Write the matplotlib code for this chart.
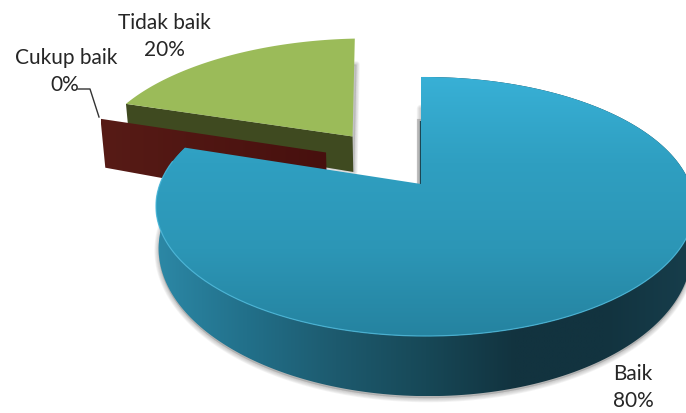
import numpy as np
import matplotlib
matplotlib.use("Agg")
import matplotlib.pyplot as plt
from matplotlib.patches import Polygon
from matplotlib.colors import LinearSegmentedColormap

categories = ["Baik", "Cukup baik", "Tidak baik"]
values = [80, 0, 20]
pct_labels = ["80%", "0%", "20%"]

# projection / style constants
CX, CY, A, B, K, KU, D = 421.0, 185.0, 265.0, 125.6, 0.1738, 0.015, 41.0
EXPLODE = {"Baik": (0.0, 0.0), "Cukup baik": (305.0, 0.46), "Tidak baik": (325.7, 0.4925)}
RADIUS = {"Baik": 1.0, "Cukup baik": 1.03, "Tidak baik": 1.05}
END_TRIM = {"Baik": 0.0, "Cukup baik": 0.0, "Tidak baik": 2.0}

def project(u, v, z=0.0):
    u, v = np.asarray(u, float), np.asarray(v, float)
    w = 1 + K * v - KU * u
    x = CX + A * u / w * (1 - 0.01 * z)
    y = CY - B * v / w + D * z / w ** 2
    return np.column_stack([np.atleast_1d(x), np.atleast_1d(y)])

def slice_geom(name, a0, a1):
    ang, ex = EXPLODE[name]
    ou, ov = ex * np.sin(np.radians(ang)), ex * np.cos(np.radians(ang))
    t = np.radians(np.linspace(a0, a1 - END_TRIM[name], 240))
    r = RADIUS[name]
    return ou, ov, ou + r * np.sin(t), ov + r * np.cos(t)

total = sum(values)
edges = np.concatenate([[0], np.cumsum(values)]) / total * 360
spans = {c: (edges[i], edges[i + 1]) for i, c in enumerate(categories)}

plt.rcParams["font.family"] = ["Lato", "DejaVu Sans"]
fig = plt.figure(figsize=(6.86, 4.14), dpi=100)
ax = fig.add_axes([0, 0, 1, 1])
ax.set_axis_off()

def shadow(pts, dx=0, dy=2, layers=5):
    for i in range(layers, 0, -1):
        ax.add_patch(Polygon(pts + [dx, dy], closed=True, fc="#808080", ec="#808080",
                             lw=i * 1.2, alpha=0.09, zorder=1, joinstyle="round"))

def gradient(pts, colors, vertical=True, zorder=3):
    x0, x1, y0, y1 = pts[:, 0].min(), pts[:, 0].max(), pts[:, 1].min(), pts[:, 1].max()
    g = np.linspace(0, 1, 256)
    g = g[:, None] if vertical else g[None, :]
    im = ax.imshow(g, cmap=LinearSegmentedColormap.from_list("g", colors), vmin=0, vmax=1,
                   extent=[x0, x1, y1, y0], aspect="auto", zorder=zorder, interpolation="bilinear")
    clip = Polygon(pts, closed=True, transform=ax.transData, fc="none", ec="none")
    ax.add_patch(clip)
    im.set_clip_path(clip)

# Tidak baik (green)
a0, a1 = spans["Tidak baik"]
ou, ov, ru, rv = slice_geom("Tidak baik", a0, a1)
top = np.vstack([project(ou, ov), project(ru, rv)])
bottom = np.vstack([project(ou, ov, 1), project(ru, rv, 1)])
shadow(bottom, dx=1, dy=0, layers=4)
face = np.vstack([project(ou, ov), project(ru[0], rv[0]), project(ru[0], rv[0], 1), project(ou, ov, 1)])
ax.add_patch(Polygon(face, closed=True, fc="#3F4A20", ec="none", zorder=2))
ax.add_patch(Polygon(top, closed=True, fc="#9BBB59", ec="none", zorder=2.2))

# Cukup baik (maroon, zero-size slice: only its cut face is visible)
a0, a1 = spans["Cukup baik"]
ou, ov, ru, rv = slice_geom("Cukup baik", a0, a1)
face = np.vstack([project(ou, ov), project(ru[0], rv[0]), project(ru[0], rv[0], 1.5), project(ou, ov, 1.5)])
gradient(face, ["#571B16", "#47100E"], vertical=False, zorder=2.5)

# Baik (blue)
a0, a1 = spans["Baik"]
ou, ov, ru, rv = slice_geom("Baik", a0, a1)
rim = project(ru, rv)
rim_b = project(ru, rv, 1)
top = np.vstack([project(ou, ov), rim])
shadow(np.vstack([rim_b, project(ou, ov, 1)]), dy=2, layers=5)
edge = np.vstack([project(0, 0.55), project(ou, ov)])
ax.plot(edge[:, 0] - 2, edge[:, 1], color="#808080", lw=3, alpha=0.45, zorder=1.5)
ax.plot(edge[:, 0], edge[:, 1], color="#1C4654", lw=1.6, zorder=2.9, solid_capstyle="butt")
gradient(np.vstack([rim, rim_b[::-1]]),
         ["#2C88A6", "#22708A", "#1D5A6E", "#174857", "#12333F", "#12333F", "#173E4C"],
         vertical=False, zorder=3)
gradient(top, ["#38B0D6", "#2F9FC1", "#2C96B6", "#2583A0"], vertical=True, zorder=3.2)
front = rim[(ru < 0.95) & (rv < 0.2)]
ax.plot(front[:, 0], front[:, 1], color="#4BB9DC", lw=0.9, alpha=0.8, zorder=3.3)

# leader line and labels
ax.plot([78, 90, 99], [90, 90, 118], color="#333333", lw=1.0, zorder=4)
pos = {"Baik": (633, 374), "Cukup baik": (66, 58), "Tidak baik": (164, 23)}
lab_pos = {"Baik": (633, 401), "Cukup baik": (65, 85), "Tidak baik": (164, 50)}
for c, p in zip(categories, pct_labels):
    ax.text(*pos[c], c, ha="center", va="center", fontsize=15, color="#262626", zorder=5)
    ax.text(*lab_pos[c], p, ha="center", va="center", fontsize=15, color="#262626", zorder=5)

ax.set_xlim(0, 686)
ax.set_ylim(414, 0)
fig.savefig("out.png", dpi=100)
